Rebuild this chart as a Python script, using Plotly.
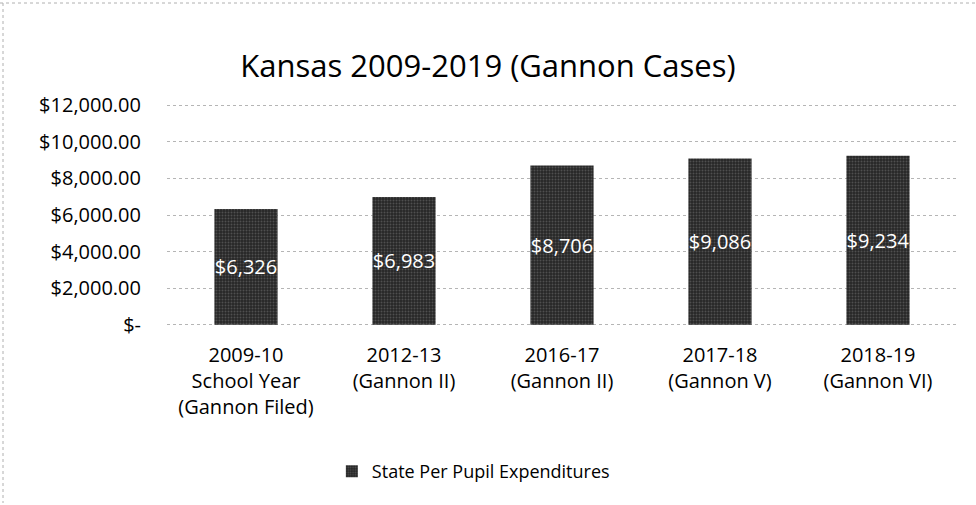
import plotly.graph_objects as go

categories = ["2009-10<br>School Year<br>(Gannon Filed)", "2012-13<br>(Gannon II)",
              "2016-17<br>(Gannon II)", "2017-18<br>(Gannon V)", "2018-19<br>(Gannon VI)"]
values = [6326, 6983, 8706, 9086, 9234]
labels = ["$6,326", "$6,983", "$8,706", "$9,086", "$9,234"]
tick_vals = [0, 2000, 4000, 6000, 8000, 10000, 12000]
tick_text = ["$-", "$2,000.00", "$4,000.00", "$6,000.00", "$8,000.00", "$10,000.00", "$12,000.00"]

FONT = "Open Sans"

fig = go.Figure()
fig.add_trace(go.Bar(
    x=categories, y=values, name="State Per Pupil Expenditures",
    text=labels, textposition="inside", insidetextanchor="middle",
    constraintext="none", textangle=0,
    textfont=dict(color="white", size=20, family=FONT),
    marker=dict(color="#2e2e2e", line=dict(width=0),
                pattern=dict(shape=".", fgcolor="#777777", bgcolor="#262626", size=3, solidity=0.35)),
    width=0.4,
))

fig.update_layout(
    width=976, height=505,
    margin=dict(l=167, r=19, t=103, b=178, autoexpand=False),
    paper_bgcolor="white", plot_bgcolor="white",
    font=dict(family=FONT, color="#000000", size=20),
    title=dict(text="Kansas 2009-2019 (Gannon Cases)", x=0.5, xanchor="center",
               y=0.87, yanchor="middle", font=dict(size=31, family=FONT, color="#000")),
    showlegend=True,
    legend=dict(orientation="h", xref="container", x=0.485, xanchor="center",
                y=-0.645, yanchor="middle", font=dict(size=18, family=FONT)),
    xaxis=dict(showgrid=False, showline=False, ticks="", tickangle=0, automargin=False,
               ticklabelstandoff=14, tickfont=dict(size=20)),
    yaxis=dict(range=[-120, 12120], tickvals=tick_vals, ticktext=tick_text,
               showgrid=True, gridcolor="#b5b5b5", griddash="dot", gridwidth=1,
               zeroline=False, showline=False, ticks="", ticklabelstandoff=25,
               automargin=False, tickfont=dict(size=20)),
)
H = 505 - 103 - 178
fig.add_shape(type="line", xref="paper", yref="paper", x0=-167/790, x1=1+19/790,
              y0=1+100/H, y1=1+100/H, line=dict(color="#b0b0b0", width=1, dash="dot"))
fig.add_shape(type="line", xref="paper", yref="paper", x0=-164/790, x1=-164/790,
              y0=1+100/H, y1=-176/H, line=dict(color="#b0b0b0", width=1, dash="dot"))

fig.write_html("out.html")
